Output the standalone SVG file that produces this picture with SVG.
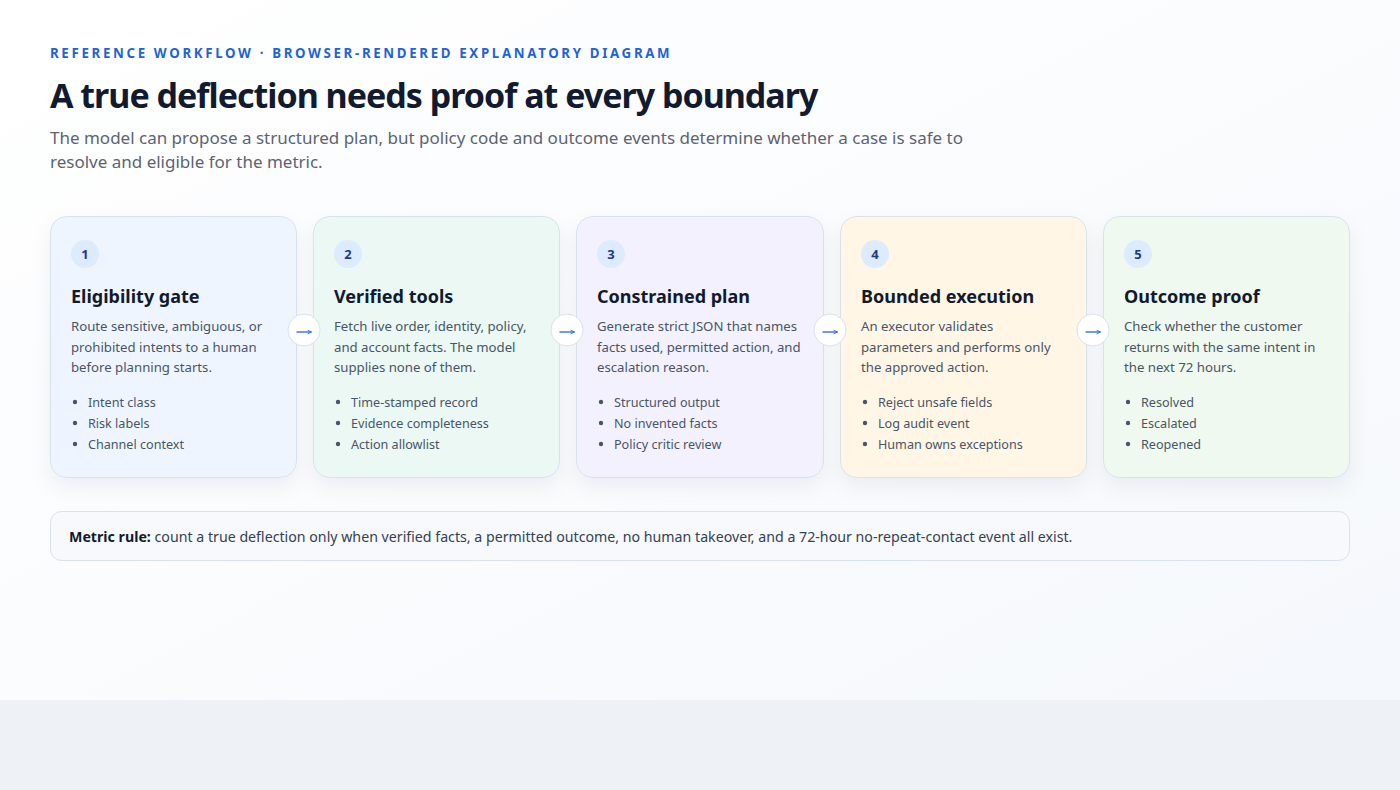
<svg xmlns="http://www.w3.org/2000/svg" width="1400" height="790" viewBox="0 0 1400 790">
<defs>
<linearGradient id="bg" x1="0" y1="0" x2="1" y2="1">
<stop offset="0" stop-color="#ffffff"/>
<stop offset="1" stop-color="#f5f8fc"/>
</linearGradient>
<filter id="sh" x="-20%" y="-20%" width="140%" height="150%">
<feDropShadow dx="0" dy="8" stdDeviation="10" flood-color="#1e293b" flood-opacity="0.06"/>
</filter>
<marker id="ah" viewBox="0 0 10 10" refX="9" refY="5" markerWidth="5" markerHeight="5" markerUnits="userSpaceOnUse" orient="auto">
<path d="M1,1 L9,5 L1,9" fill="none" stroke="#2563eb" stroke-width="1.6"/>
</marker>
</defs>
<style>
text{font-family:"Noto Sans","Open Sans","Liberation Sans",sans-serif}
.eyebrow{font-size:13.3px;font-weight:700;fill:#1d64d8;letter-spacing:2.65px}
.h1{font-size:34px;font-weight:700;fill:#111a2e;letter-spacing:-1px}
.sub{font-size:17px;fill:#5b6473}
.card{stroke:#d8e1ec;stroke-width:1}
.badge{fill:#dcebfd}
.num{font-size:13px;font-weight:700;fill:#1e3a8a;text-anchor:middle}
.title{font-size:18px;font-weight:700;fill:#111a2e}
.body{font-size:13.2px;fill:#475569}
.li{font-size:12.6px;fill:#475569}
.dot{fill:#475569}
.arrowc{fill:#ffffff;stroke:#d8e1ec;stroke-width:1}
.arrow{fill:none;stroke:#2563eb;stroke-width:1.3;marker-end:url(#ah)}
.rule{font-size:14.2px;fill:#334155}
</style>
<rect width="1400" height="700" fill="url(#bg)"/>
<rect y="700" width="1400" height="90" fill="#eef2f6"/>

<g id="header">
<text class="eyebrow" x="50" y="58">REFERENCE WORKFLOW · BROWSER-RENDERED EXPLANATORY DIAGRAM</text>
<text class="h1" x="50" y="108">A true deflection needs proof at every boundary</text>
<text class="sub" x="50" y="144">The model can propose a structured plan, but policy code and outcome events determine whether a case is safe to</text>
<text class="sub" x="50" y="168">resolve and eligible for the metric.</text>
</g>

<g id="step1">
<rect class="card" x="50.5" y="216.5" width="246" height="261" rx="16" fill="#eff5ff" filter="url(#sh)"/>
<circle class="badge" cx="85" cy="254" r="14"/>
<text class="num" x="85" y="258.5">1</text>
<text class="title" x="71" y="303">Eligibility gate</text>
<text class="body" x="71" y="331">Route sensitive, ambiguous, or</text>
<text class="body" x="71" y="352">prohibited intents to a human</text>
<text class="body" x="71" y="372">before planning starts.</text>
<circle class="dot" cx="75" cy="402" r="2.2"/><text class="li" x="88" y="407">Intent class</text>
<circle class="dot" cx="75" cy="423" r="2.2"/><text class="li" x="88" y="428">Risk labels</text>
<circle class="dot" cx="75" cy="444" r="2.2"/><text class="li" x="88" y="449">Channel context</text>
</g>

<g id="step2">
<rect class="card" x="313.5" y="216.5" width="246" height="261" rx="16" fill="#ebf8f4" filter="url(#sh)"/>
<circle class="badge" cx="348" cy="254" r="14"/>
<text class="num" x="348" y="258.5">2</text>
<text class="title" x="334" y="303">Verified tools</text>
<text class="body" x="334" y="331">Fetch live order, identity, policy,</text>
<text class="body" x="334" y="352">and account facts. The model</text>
<text class="body" x="334" y="372">supplies none of them.</text>
<circle class="dot" cx="338" cy="402" r="2.2"/><text class="li" x="351" y="407">Time-stamped record</text>
<circle class="dot" cx="338" cy="423" r="2.2"/><text class="li" x="351" y="428">Evidence completeness</text>
<circle class="dot" cx="338" cy="444" r="2.2"/><text class="li" x="351" y="449">Action allowlist</text>
</g>

<g id="step3">
<rect class="card" x="576.5" y="216.5" width="247" height="261" rx="16" fill="#f3f1fe" filter="url(#sh)"/>
<circle class="badge" cx="611" cy="254" r="14"/>
<text class="num" x="611" y="258.5">3</text>
<text class="title" x="597" y="303">Constrained plan</text>
<text class="body" x="597" y="331">Generate strict JSON that names</text>
<text class="body" x="597" y="352">facts used, permitted action, and</text>
<text class="body" x="597" y="372">escalation reason.</text>
<circle class="dot" cx="601" cy="402" r="2.2"/><text class="li" x="614" y="407">Structured output</text>
<circle class="dot" cx="601" cy="423" r="2.2"/><text class="li" x="614" y="428">No invented facts</text>
<circle class="dot" cx="601" cy="444" r="2.2"/><text class="li" x="614" y="449">Policy critic review</text>
</g>

<g id="step4">
<rect class="card" x="840.5" y="216.5" width="246" height="261" rx="16" fill="#fff6e6" filter="url(#sh)"/>
<circle class="badge" cx="875" cy="254" r="14"/>
<text class="num" x="875" y="258.5">4</text>
<text class="title" x="861" y="303">Bounded execution</text>
<text class="body" x="861" y="331">An executor validates</text>
<text class="body" x="861" y="352">parameters and performs only</text>
<text class="body" x="861" y="372">the approved action.</text>
<circle class="dot" cx="865" cy="402" r="2.2"/><text class="li" x="878" y="407">Reject unsafe fields</text>
<circle class="dot" cx="865" cy="423" r="2.2"/><text class="li" x="878" y="428">Log audit event</text>
<circle class="dot" cx="865" cy="444" r="2.2"/><text class="li" x="878" y="449">Human owns exceptions</text>
</g>

<g id="step5">
<rect class="card" x="1103.5" y="216.5" width="246" height="261" rx="16" fill="#eff9ef" filter="url(#sh)"/>
<circle class="badge" cx="1138" cy="254" r="14"/>
<text class="num" x="1138" y="258.5">5</text>
<text class="title" x="1124" y="303">Outcome proof</text>
<text class="body" x="1124" y="331">Check whether the customer</text>
<text class="body" x="1124" y="352">returns with the same intent in</text>
<text class="body" x="1124" y="372">the next 72 hours.</text>
<circle class="dot" cx="1128" cy="402" r="2.2"/><text class="li" x="1141" y="407">Resolved</text>
<circle class="dot" cx="1128" cy="423" r="2.2"/><text class="li" x="1141" y="428">Escalated</text>
<circle class="dot" cx="1128" cy="444" r="2.2"/><text class="li" x="1141" y="449">Reopened</text>
</g>

<g id="connectors">
<circle class="arrowc" cx="304" cy="330" r="16"/><path class="arrow" d="M296.5,332 H311.5"/>
<circle class="arrowc" cx="567" cy="330" r="16"/><path class="arrow" d="M559.5,332 H574.5"/>
<circle class="arrowc" cx="830" cy="330" r="16"/><path class="arrow" d="M822.5,332 H837.5"/>
<circle class="arrowc" cx="1093" cy="330" r="16"/><path class="arrow" d="M1085.5,332 H1100.5"/>
</g>

<g id="metric">
<rect x="50.5" y="511.5" width="1299" height="49" rx="11" fill="#f7f9fc" stroke="#d8e1ec"/>
<text class="rule" x="69" y="542"><tspan font-weight="700" fill="#111a2e">Metric rule:</tspan> count a true deflection only when verified facts, a permitted outcome, no human takeover, and a 72-hour no-repeat-contact event all exist.</text>
</g>
</svg>
